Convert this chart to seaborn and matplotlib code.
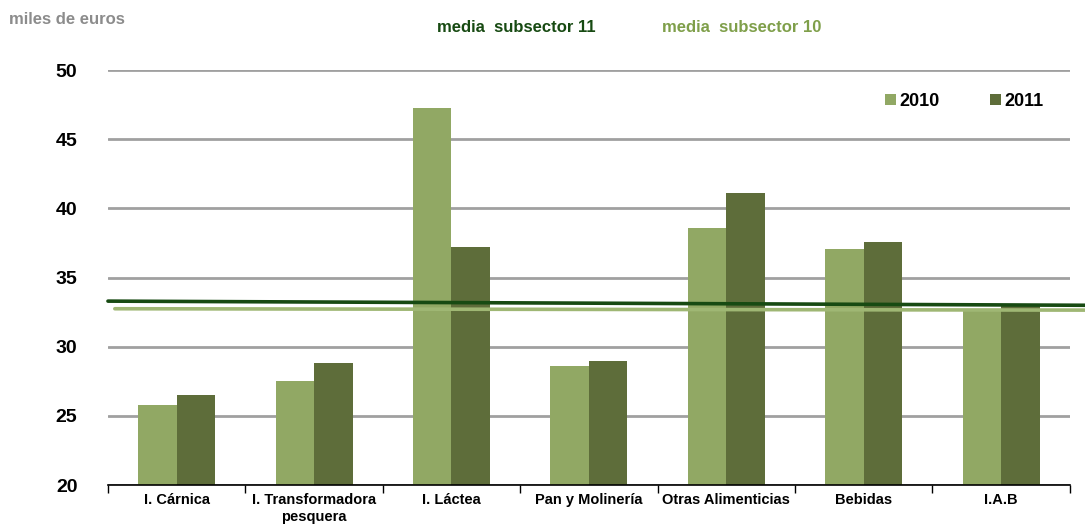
import matplotlib
matplotlib.use("Agg")
import matplotlib.pyplot as plt
import seaborn as sns
import pandas as pd
from matplotlib.ticker import FixedLocator

# datos
categorias = ['I. Cárnica', 'I. Transformadora\npesquera', 'I. Láctea', 'Pan y Molinería',
              'Otras Alimenticias', 'Bebidas', 'I.A.B']
valores_2010 = [25.8, 27.5, 47.3, 28.6, 38.6, 37.1, 32.7]
valores_2011 = [26.5, 28.8, 37.2, 29.0, 41.1, 37.6, 33.0]
anios = ['2010', '2011']
media_sub11 = [33.3, 33.0]   # inicio, fin
media_sub10 = [32.75, 32.65]

sns.set_theme(style="white")
plt.rcParams['font.family'] = ['Liberation Sans Narrow', 'Liberation Sans', 'DejaVu Sans']

df = pd.DataFrame({
    'categoria': categorias * 2,
    'valor': valores_2010 + valores_2011,
    'anio': [anios[0]] * len(categorias) + [anios[1]] * len(categorias),
})

fig = plt.figure(figsize=(10.85, 5.28), dpi=100)
ax = fig.add_axes([0.0995, 0.0814, 0.8865, 0.7856])

colores = {'2010': '#91a864', '2011': '#5e6d3a'}
sns.barplot(data=df, x='categoria', y='valor', hue='anio', palette=colores,
            width=0.56, ax=ax, saturation=1, gap=0, linewidth=0, edgecolor='none')

ax.set_ylim(20, 50)
ax.set_xlim(-0.5, len(categorias) - 0.5)
ax.set_yticks([20, 25, 30, 35, 40, 45, 50])
ax.yaxis.grid(True, color='#a0a0a0', linewidth=2)
ax.set_axisbelow(True)
for s in ['left', 'right', 'top']:
    ax.spines[s].set_visible(False)
ax.spines['bottom'].set_color('black')
ax.spines['bottom'].set_linewidth(1.2)

# lineas de media
ax.plot([-0.5, 6.62], media_sub11, color='#174a12', linewidth=2.6, clip_on=False, zorder=5)
ax.plot([-0.45, 6.62], media_sub10, color='#9fb774', linewidth=2.6, clip_on=False, zorder=4)

ax.set_xlabel('')
ax.set_ylabel('')
ax.tick_params(axis='y', length=0, labelsize=14, pad=22, labelcolor='black')
ax.tick_params(axis='x', which='major', length=0, labelsize=10.5, pad=6, labelcolor='black')
ax.xaxis.set_minor_locator(FixedLocator([i - 0.5 for i in range(len(categorias) + 1)]))
ax.tick_params(axis='x', which='minor', bottom=True, length=6, color='black', width=1,
               direction='out')
for lbl in ax.get_yticklabels():
    lbl.set_fontweight('bold')
for lbl in ax.get_xticklabels():
    lbl.set_fontweight('bold')
    lbl.set_verticalalignment('top')

leg = ax.legend(loc='upper right', bbox_to_anchor=(0.99, 0.985), frameon=False, ncol=2,
                handlelength=0.6, handleheight=0.6, handletextpad=0.2, columnspacing=2.8,
                prop={'weight': 'bold', 'size': 13})
for t in leg.get_texts():
    t.set_color('black')

fig.text(0.008, 0.955, 'miles de euros', color='#8c8c8c', fontsize=12, fontweight='bold',
         family=['Liberation Sans', 'DejaVu Sans'])
fig.text(0.403, 0.94, 'media  subsector 11', color='#174a12', fontsize=12, fontweight='bold',
         family=['Liberation Sans', 'DejaVu Sans'])
fig.text(0.61, 0.94, 'media  subsector 10', color='#7f9f4a', fontsize=12, fontweight='bold',
         family=['Liberation Sans', 'DejaVu Sans'])

fig.savefig('out.png', dpi=100)
